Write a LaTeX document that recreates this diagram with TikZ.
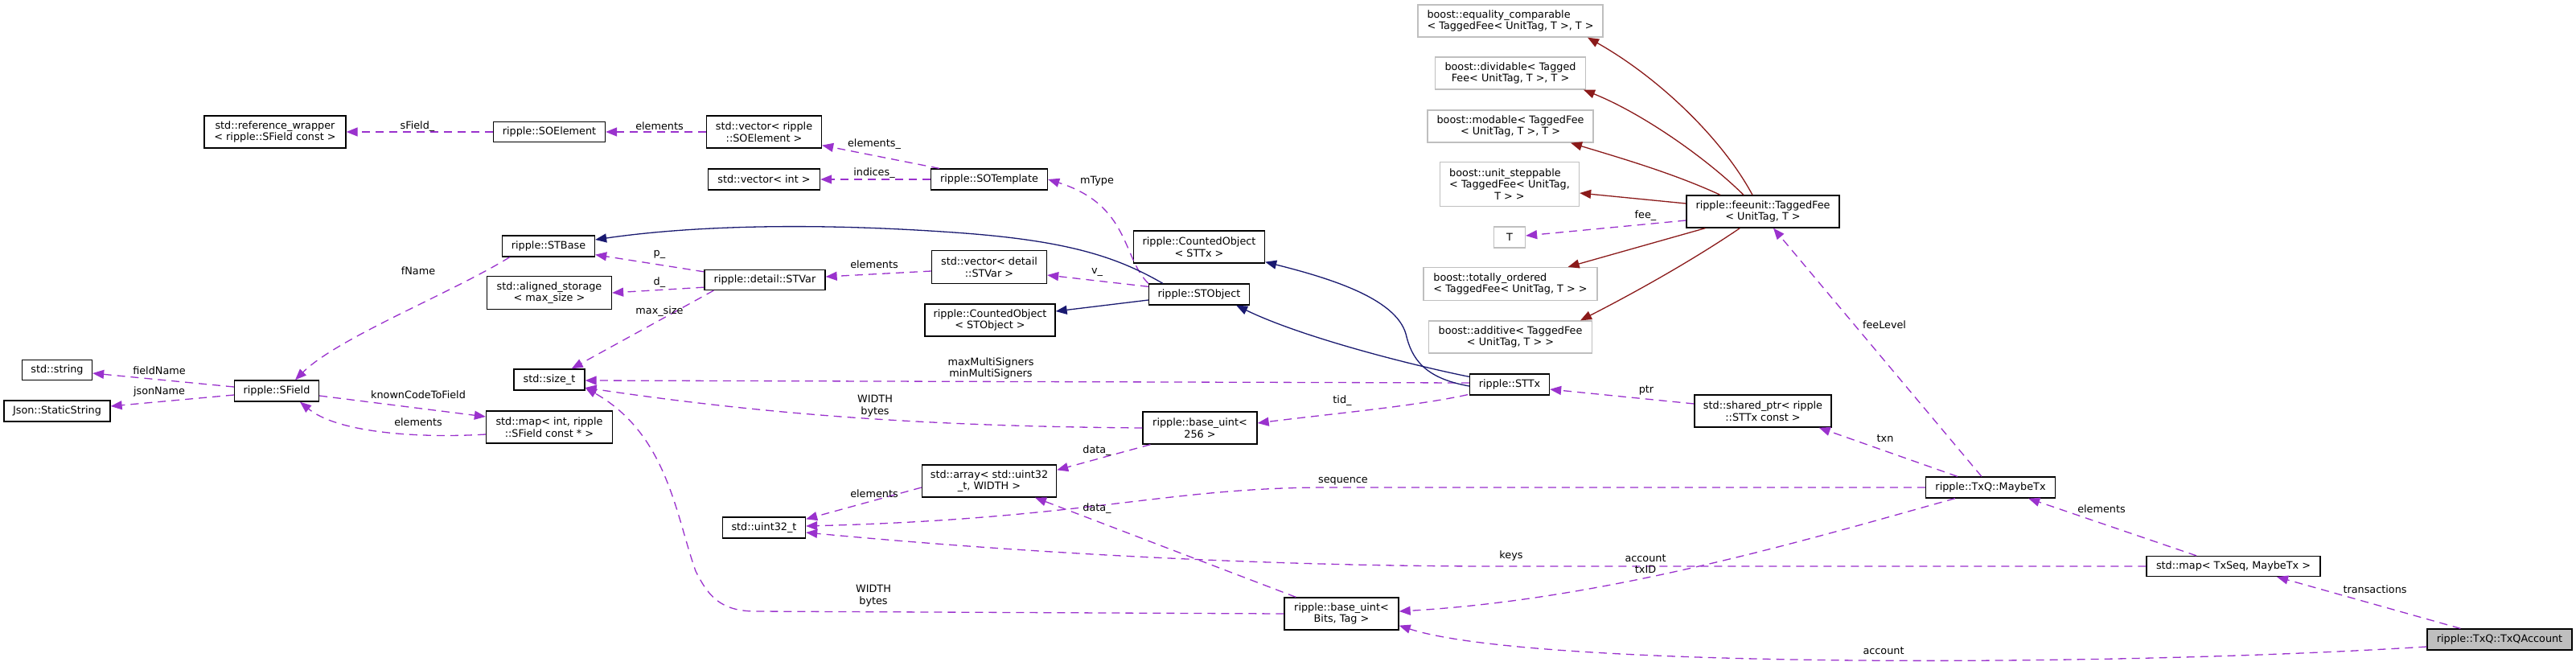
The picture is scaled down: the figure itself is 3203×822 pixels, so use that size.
\documentclass[tikz,border=0pt]{standalone}
\usepackage{fontspec}
\setmainfont{DejaVu Sans}
\usetikzlibrary{arrows.meta,calc}
\definecolor{mem}{HTML}{9A32CD}
\definecolor{inhb}{HTML}{191970}
\definecolor{inhr}{HTML}{8B1A1A}
\definecolor{ugray}{HTML}{BFBFBF}
\begin{document}
\begin{tikzpicture}[x=1pt,y=-1pt,
  font=\fontsize{12.8}{14.7}\selectfont,
  cls/.style={draw=black, line width=1.3pt, fill=white, inner sep=0pt, align=center, rectangle},
  ucls/.style={draw=ugray, line width=1.3pt, fill=white, inner sep=0pt, align=center, rectangle},
  cur/.style={draw=black, line width=1.3pt, fill=ugray, inner sep=0pt, align=center, rectangle},
  member/.style={draw=mem, line width=1.3pt, dash pattern=on 10pt off 7pt, -{Triangle[length=14pt,width=11pt]}},
  inhr/.style={draw=inhr, line width=1.3pt, -{Triangle[length=14pt,width=11pt]}},
  inhb/.style={draw=inhb, line width=1.3pt, -{Triangle[length=14pt,width=11pt]}},
  lbl/.style={inner sep=0pt, align=center}]
\fill[white] (0,0) rectangle (3203,822);
\useasboundingbox (0,0) rectangle (3203,822);
% nodes
\node[cls, minimum width=176pt, minimum height=40pt] (refwrap) at (342,164) {std::reference\_wrapper\\< ripple::SField const >};
\node[cls, minimum width=139pt, minimum height=25pt] (soelem) at (683,164) {ripple::SOElement};
\node[cls, minimum width=143pt, minimum height=40pt] (vecsoel) at (950,164) {std::vector< ripple\\::SOElement >};
\node[cls, minimum width=139pt, minimum height=26pt] (vecint) at (950,223) {std::vector< int >};
\node[cls, minimum width=145pt, minimum height=26pt] (sotmpl) at (1230,223) {ripple::SOTemplate};
\node[cls, minimum width=115pt, minimum height=26pt] (stbase) at (682,306) {ripple::STBase};
\node[cls, minimum width=155pt, minimum height=41pt] (aligned) at (683,364) {std::aligned\_storage\\< max\_size >};
\node[cls, minimum width=150pt, minimum height=25pt] (stvar) at (951,348) {ripple::detail::STVar};
\node[cls, minimum width=143pt, minimum height=41pt] (vecstvar) at (1230,332) {std::vector< detail\\::STVar >};
\node[cls, minimum width=163pt, minimum height=40pt] (cntsttx) at (1491,307) {ripple::CountedObject\\< STTx >};
\node[cls, minimum width=125pt, minimum height=26pt] (stobject) at (1491,366) {ripple::STObject};
\node[cls, minimum width=162pt, minimum height=40pt] (cntstobj) at (1231,398) {ripple::CountedObject\\< STObject >};
\node[cls, minimum width=99pt, minimum height=26pt] (sttx) at (1877,478) {ripple::STTx};
\node[cls, minimum width=87pt, minimum height=25pt] (stdstring) at (71,460) {std::string};
\node[cls, minimum width=132pt, minimum height=26pt] (json) at (71,511) {Json::StaticString};
\node[cls, minimum width=105pt, minimum height=26pt] (sfield) at (344,486) {ripple::SField};
\node[cls, minimum width=88pt, minimum height=26pt] (sizet) at (683,472) {std::size\_t};
\node[cls, minimum width=157pt, minimum height=40pt] (mapint) at (683,531) {std::map< int, ripple\\::SField const * >};
\node[cls, minimum width=142pt, minimum height=40pt] (bu256) at (1492,532) {ripple::base\_uint<\\256 >};
\node[cls, minimum width=167pt, minimum height=40pt] (array) at (1230,598) {std::array< std::uint32\\\_t, WIDTH >};
\node[cls, minimum width=103pt, minimum height=26pt] (uint32) at (950,656) {std::uint32\_t};
\node[cls, minimum width=142pt, minimum height=40pt] (bubits) at (1668,763) {ripple::base\_uint<\\Bits, Tag >};
\node[cls, minimum width=170pt, minimum height=40pt] (sharedptr) at (2192,511) {std::shared\_ptr< ripple\\::STTx const >};
\node[cls, minimum width=161pt, minimum height=26pt] (maybetx) at (2475,606) {ripple::TxQ::MaybeTx};
\node[cls, minimum width=216pt, minimum height=25pt] (maptxseq) at (2777,704) {std::map< TxSeq, MaybeTx >};
\node[cur, minimum width=180pt, minimum height=26pt] (txqacc) at (3108,795) {ripple::TxQ::TxQAccount};
\node[cls, minimum width=190pt, minimum height=40pt] (taggedfee) at (2192,263) {ripple::feeunit::TaggedFee\\< UnitTag, T >};
\node[ucls, minimum width=230pt, minimum height=40pt, align=left] (eqcomp) at (1878,26) {boost::equality\_comparable\\< TaggedFee< UnitTag, T >, T >};
\node[ucls, minimum width=187pt, minimum height=40pt] (divid) at (1878,91) {boost::dividable< Tagged\\Fee< UnitTag, T >, T >};
\node[ucls, minimum width=206pt, minimum height=40pt] (modab) at (1878,157) {boost::modable< TaggedFee\\< UnitTag, T >, T >};
\node[ucls, minimum width=173pt, minimum height=55pt] (unitstep) at (1877,229) {\rlap{boost::unit\_steppable}\phantom{< TaggedFee< UnitTag,}\\< TaggedFee< UnitTag,\\T > >};
\node[ucls, minimum width=39pt, minimum height=26pt] (T) at (1877,295) {T};
\node[ucls, minimum width=216pt, minimum height=41pt, align=left] (totord) at (1878,353) {boost::totally\_ordered\\< TaggedFee< UnitTag, T > >};
\node[ucls, minimum width=203pt, minimum height=40pt] (additive) at (1878,419) {boost::additive< TaggedFee\\< UnitTag, T > >};
% member edges
\draw[member] (soelem.west) -- (refwrap.east);
\draw[member] (vecsoel.west) -- (soelem.east);
\draw[member] ($(sotmpl.north west)+(11,0)$) -- ($(vecsoel.south east)+(0,-4)$);
\draw[member] (sotmpl.west) -- (vecint.east);
\draw[member] (stobject.north west) .. controls (1395,320) and (1405,255) .. (sotmpl.east);
\draw[member] ($(stobject.north west)+(0,4)$) -- ($(vecstvar.east)+(0,10)$);
\draw[member] ($(vecstvar.west)+(0,5)$) -- ($(stvar.east)+(0,-4)$);
\draw[member] ($(stvar.north west)+(0,3)$) -- ($(stbase.south east)+(0,-3)$);
\draw[member] ($(stvar.south west)+(0,-4)$) -- (aligned.east);
\draw[member] ($(stvar.south west)+(12,0)$) -- ($(sizet.north east)+(-17,0)$);
\draw[member] ($(stbase.south west)+(10,0)$) .. controls (560,365) and (420,420) .. ($(sfield.north)+(23,0)$);
\draw[member] ($(sfield.west)+(0,-5)$) -- ($(stdstring.east)+(0,4)$);
\draw[member] ($(sfield.west)+(0,5)$) -- ($(json.east)+(0,-6)$);
\draw[member] ($(sfield.east)+(0,6)$) -- ($(mapint.west)+(0,-13)$);
\draw[member] ($(mapint.west)+(0,9)$) .. controls (520,545) and (420,538) .. ($(sfield.south)+(29,0)$);
\draw[member] ($(sttx.west)+(0,-2)$) -- ($(sizet.east)+(0,1)$);
\draw[member] (bu256.west) .. controls (1150,530) and (950,515) .. ($(sizet.east)+(0,10)$);
\draw[member] ($(sttx.south west)+(-2,-1)$) .. controls (1760,505) and (1650,515) .. ($(bu256.east)+(0,-6)$);
\draw[member] ($(bu256.south west)+(10,0)$) -- ($(array.north east)+(0,7)$);
\draw[member] ($(array.west)+(0,8)$) -- ($(uint32.north east)+(0,3)$);
\draw[member] (maybetx.west) -- (1650,606) .. controls (1450,606) and (1350,645) .. ($(uint32.east)+(0,-2)$);
\draw[member] (maptxseq.west) -- (1860,704) .. controls (1600,704) and (1300,690) .. ($(uint32.east)+(0,6)$);
\draw[member] ($(maybetx.south west)+(37,0)$) .. controls (2250,670) and (2000,745) .. ($(bubits.east)+(0,-3)$);
\draw[member] ($(txqacc.west)+(0,9)$) .. controls (2600,830) and (1900,830) .. ($(bubits.south east)+(0,-6)$);
\draw[member] ($(bubits.north west)+(15,0)$) -- ($(array.south)+(57,0)$);
\draw[member] (bubits.west) -- (940,760) .. controls (895,760) and (880,740) .. (865,710) .. controls (840,640) and (830,540) .. ($(sizet.east)+(0,10)$);
\draw[member] ($(maybetx.north west)+(40,0)$) -- ($(sharedptr.south east)+(-16,0)$);
\draw[member] ($(sharedptr.west)+(0,-9)$) -- ($(sttx.east)+(0,6)$);
\draw[member] ($(maybetx.north west)+(70,0)$) -- ($(taggedfee.south)+(13,0)$);
\draw[member] ($(taggedfee.west)+(0,11)$) -- ($(T.east)+(0,-2)$);
\draw[member] ($(maptxseq.north)+(-46,0)$) -- ($(maybetx.south east)+(-34,0)$);
\draw[member] ($(txqacc.north west)+(42,0)$) -- ($(maptxseq.south)+(54,0)$);
% inheritance (red)
\draw[inhr] ($(taggedfee.north)+(-13,0)$) .. controls (2140,170) and (2060,95) .. ($(eqcomp.south)+(96,0)$);
\draw[inhr] ($(taggedfee.north)+(-24,0)$) .. controls (2120,195) and (2040,140) .. ($(divid.south)+(91,0)$);
\draw[inhr] ($(taggedfee.north)+(-53,0)$) .. controls (2080,215) and (2010,195) .. ($(modab.south)+(75,0)$);
\draw[inhr] ($(taggedfee.west)+(0,-10)$) -- ($(unitstep.east)+(0,11)$);
\draw[inhr] ($(taggedfee.south west)+(24,0)$) -- ($(totord.north east)+(-37,0)$);
\draw[inhr] ($(taggedfee.south west)+(67,0)$) .. controls (2110,320) and (2040,360) .. ($(additive.north)+(87,0)$);
% inheritance (blue)
\draw[inhb] ($(stobject.north west)+(18,0)$) .. controls (1390,320) and (1330,300) .. (1200,290) .. controls (1000,275) and (850,282) .. ($(stbase.east)+(0,-8)$);
\draw[inhb] ($(stobject.west)+(0,7)$) -- ($(cntstobj.east)+(0,-11)$);
\draw[inhb] ($(sttx.north west)+(0,4)$) .. controls (1760,455) and (1620,420) .. ($(stobject.south east)+(-17,0)$);
\draw[inhb] ($(sttx.west)+(0,2)$) .. controls (1770,470) and (1755,445) .. (1748,415) .. controls (1735,370) and (1650,345) .. ($(cntsttx.south east)+(0,-2)$);
% labels
\node[lbl] (l1) at (519,157) {sField\_};
\node[lbl] (l2) at (820,157) {elements};
\node[lbl] (l3) at (1087,179) {elements\_};
\node[lbl] (l4) at (1087,215) {indices\_};
\node[lbl] (l5) at (1364,225) {mType};
\node[lbl] (l6) at (1364,339) {v\_};
\node[lbl] (l7) at (1087,329) {elements};
\node[lbl] (l8) at (820,316) {p\_};
\node[lbl] (l9) at (820,351) {d\_};
\node[lbl] (l10) at (820,387) {max\_size};
\node[lbl] (l11) at (520,337) {fName};
\node[lbl] (l12) at (198,461) {fieldName};
\node[lbl] (l13) at (198,487) {jsonName};
\node[lbl] (l14) at (520,491) {knownCodeToField};
\node[lbl] (l15) at (520,525) {elements};
\node[lbl] (l16) at (1232,458) {maxMultiSigners\\minMultiSigners};
\node[lbl] (l17) at (1088,505) {WIDTH\\bytes};
\node[lbl] (l18) at (1669,498) {tid\_};
\node[lbl] (l19) at (1364,560) {data\_};
\node[lbl] (l20) at (1087,614) {elements};
\node[lbl] (l21) at (1670,598) {sequence};
\node[lbl] (l22) at (1879,691) {keys};
\node[lbl] (l23) at (2046,701) {account\\txID};
\node[lbl] (l24) at (2342,809) {account};
\node[lbl] (l25) at (1364,632) {data\_};
\node[lbl] (l26) at (1086,741) {WIDTH\\bytes};
\node[lbl] (l27) at (2344,545) {txn};
\node[lbl] (l28) at (2047,485) {ptr};
\node[lbl] (l29) at (2343,404) {feeLevel};
\node[lbl] (l30) at (2046,268) {fee\_};
\node[lbl] (l31) at (2613,633) {elements};
\node[lbl] (l32) at (2953,733) {transactions};
\end{tikzpicture}
\end{document}
